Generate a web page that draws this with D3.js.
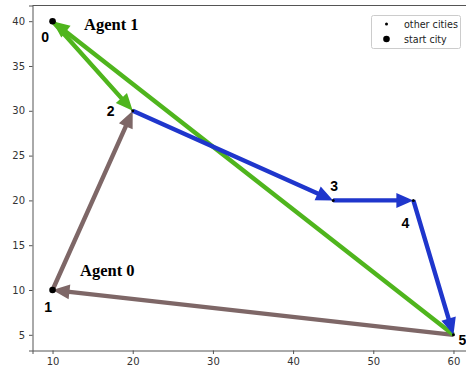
<!DOCTYPE html>
<html>
<head>
<meta charset="utf-8">
<script src="https://cdn.jsdelivr.net/npm/d3@7"></script>
<style>
body{margin:0;background:#fff;}
svg{display:block;font-family:"DejaVu Sans",sans-serif;}
</style>
</head>
<body>
<div id="graph"></div>
<script>
// city coordinates
var cityX = [10, 10, 20, 45, 55, 60];
var cityY = [40, 10, 30, 20, 20, 5];
var startCities = [0, 1];

// routes as [from, to] city index pairs
var brownRoute = [[1, 2], [5, 1]];
var greenRoute = [[5, 0], [0, 2]];
var blueRoute = [[2, 3], [3, 4], [4, 5]];

var xTicks = [10, 20, 30, 40, 50, 60];
var yTicks = [5, 10, 15, 20, 25, 30, 35, 40];

var W = 466, H = 370;
var x = d3.scaleLinear().domain([7.5, 62.5]).range([32.5, 473.5]);
var y = d3.scaleLinear().domain([3.25, 41.75]).range([350.5, 5.5]);

var svg = d3.select("#graph").append("svg")
	.attr("width", W)
	.attr("height", H);

// axes
svg.append("g")
	.attr("transform", "translate(0," + y.range()[0] + ")")
	.call(d3.axisBottom(x).tickValues(xTicks).tickSize(3.5).tickPadding(4))
	.call(function(g){ g.select(".domain").attr("stroke", "#555"); });
svg.append("g")
	.attr("transform", "translate(" + x.range()[0] + ",0)")
	.call(d3.axisLeft(y).tickValues(yTicks).tickSize(3.5).tickPadding(4))
	.call(function(g){ g.select(".domain").attr("stroke", "#555"); });
svg.selectAll(".tick text").attr("font-size", 10).attr("fill", "#333")
	.attr("font-family", "DejaVu Sans, sans-serif");
svg.selectAll(".tick line").attr("stroke", "#555");
// top / right spines
svg.append("line").attr("x1", x.range()[0]).attr("x2", x.range()[1])
	.attr("y1", y.range()[1]).attr("y2", y.range()[1]).attr("stroke", "#555");
svg.append("line").attr("x1", x.range()[1]).attr("x2", x.range()[1])
	.attr("y1", y.range()[0]).attr("y2", y.range()[1]).attr("stroke", "#555");

// arrow as a polygon with head at the target
function arrowPath(p) {
	var x0 = x(cityX[p[0]]), y0 = y(cityY[p[0]]);
	var x1 = x(cityX[p[1]]), y1 = y(cityY[p[1]]);
	var dx = x1 - x0, dy = y1 - y0, L = Math.sqrt(dx*dx + dy*dy);
	var ux = dx / L, uy = dy / L, nx = -uy, ny = ux;
	var w = 2.2, hw = 7.5, hl = 17;
	var bx = x1 - ux*hl, by = y1 - uy*hl;
	var pts = [
		[x0 + nx*w, y0 + ny*w],
		[bx + nx*w, by + ny*w],
		[bx + nx*hw, by + ny*hw],
		[x1, y1],
		[bx - nx*hw, by - ny*hw],
		[bx - nx*w, by - ny*w],
		[x0 - nx*w, y0 - ny*w]
	];
	return "M" + pts.map(function(d){ return d.join(","); }).join("L") + "Z";
}

function drawRoute(route, color) {
	svg.append("g").selectAll("path")
		.data(route)
		.enter()
			.append("path")
			.attr("d", arrowPath)
			.attr("fill", color);
}
drawRoute(brownRoute, "#7e6767");
drawRoute(greenRoute, "#4fb51d");
drawRoute(blueRoute, "#1f36cc");

// cities
svg.append("g").selectAll("circle")
	.data(d3.range(cityX.length))
	.enter()
		.append("circle")
		.attr("cx", function(i){ return x(cityX[i]); })
		.attr("cy", function(i){ return y(cityY[i]); })
		.attr("r", function(i){ return startCities.indexOf(i) >= 0 ? 3.3 : 1.5; })
		.attr("fill", "#000");

// city labels (offsets of the label centre from the city)
var labelDx = [-7.5, -4.5, -22, 1, -8, 9];
var labelDy = [21, 22, 5, -9, 28, 10];
svg.append("g").selectAll("text")
	.data(d3.range(cityX.length))
	.enter()
		.append("text")
		.attr("x", function(i){ return x(cityX[i]) + labelDx[i]; })
		.attr("y", function(i){ return y(cityY[i]) + labelDy[i]; })
		.attr("text-anchor", "middle")
		.attr("font-family", "Liberation Sans, Arial, sans-serif")
		.attr("font-weight", "bold")
		.attr("font-size", 14)
		.text(function(i){ return i; });

// agent labels
svg.append("text").attr("x", 84).attr("y", 30)
	.attr("font-family", "Liberation Serif, Times New Roman, serif")
	.attr("font-weight", "bold").attr("font-size", 16.5).text("Agent 1");
svg.append("text").attr("x", 80).attr("y", 276)
	.attr("font-family", "Liberation Serif, Times New Roman, serif")
	.attr("font-weight", "bold").attr("font-size", 16.5).text("Agent 0");

// legend
var leg = svg.append("g");
leg.append("rect").attr("x", 371.5).attr("y", 15.5).attr("width", 89).attr("height", 33)
	.attr("rx", 2).attr("fill", "#fff").attr("stroke", "#ccc");
var legItems = ["other cities", "start city"];
leg.selectAll("circle").data(legItems).enter().append("circle")
	.attr("cx", 386.5)
	.attr("cy", function(d,i){ return 24 + i*15; })
	.attr("r", function(d,i){ return i ? 3.3 : 1.5; })
	.attr("fill", "#000");
leg.selectAll("text").data(legItems).enter().append("text")
	.attr("x", 404)
	.attr("y", function(d,i){ return 27.5 + i*15; })
	.attr("font-size", 9.6)
	.attr("fill", "#222")
	.text(function(d){ return d; });
</script>
</body>
</html>
